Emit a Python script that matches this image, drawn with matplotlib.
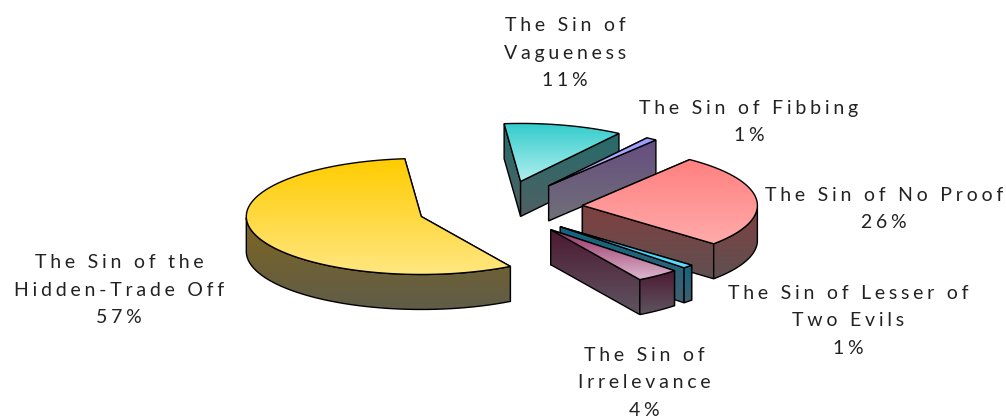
import numpy as np
import matplotlib
matplotlib.use('Agg')
import matplotlib.pyplot as plt
from matplotlib.colors import to_rgb
from matplotlib.patches import Polygon

plt.rcParams['font.family'] = ['Lato', 'DejaVu Sans']

# Data
names = ['The Sin of the\nHidden-Trade Off', 'The Sin of\nVagueness', 'The Sin of Fibbing',
         'The Sin of No Proof', 'The Sin of Lesser of\nTwo Evils', 'The Sin of\nIrrelevance']
shares = [57, 11, 1, 26, 1, 4]

# colours: top face start/end, side face start/end
top_a = ['#ffcc00', '#33cccc', '#9999ff', '#ff8080', '#00ccff', '#993366']
top_b = ['#ffe680', '#b0eeee', '#ccccff', '#ffaaaa', '#66ddff', '#dcb8cf']
side_a = ['#7f6620', '#266b6b', '#664d80', '#804040', '#0f6680', '#4d1a33']
side_b = ['#5f5c48', '#4f6064', '#707078', '#5f5050', '#405f70', '#5f5560']

# label centres, pixels
label_x = [119, 565, 749, 884, 848, 644]
label_y = [290, 53, 122, 209, 321, 383]

# pie geometry, pixels
cx, cy = 500, 208
rx, ry = 175, 58
depth = 35
explode = 0.473
start = 149.4


def spaced(s):
    return '\n'.join('\u2009\u200a'.join(line) for line in s.split('\n'))


def xy(t, x0, y0):
    t = np.radians(t)
    return x0 + rx * np.sin(t), y0 - ry * np.cos(t)


fig = plt.figure(figsize=(10.06, 4.18), dpi=100)
ax = fig.add_axes([0, 0, 1, 1])
z = [1]


def face(px, py, c1, c2):
    pts = np.column_stack([px, py])
    col1, col2 = np.array(to_rgb(c1)), np.array(to_rgb(c2))
    f = np.linspace(0, 1, 64)[:, None, None]
    grad = col1[None, None, :] * (1 - f) + col2[None, None, :] * f
    im = ax.imshow(grad, extent=[min(px), max(px), max(py), min(py)], aspect='auto', zorder=z[0])
    im.set_clip_path(Polygon(pts, closed=True, transform=ax.transData))
    ax.add_patch(Polygon(pts, closed=True, fill=False, ec='black', lw=1.0, zorder=z[0] + 0.5))
    z[0] += 1


angle = start
for i, share in enumerate(shares):
    t0, t1 = angle, angle + share * 3.6
    angle = t1
    mid = np.radians((t0 + t1) / 2)
    x0 = cx + explode * rx * np.sin(mid)
    y0 = cy - explode * ry * np.cos(mid)
    ts = np.linspace(t0, t1, 80)
    ax_, ay_ = xy(ts, x0, y0)

    # radial faces, the one further back first
    ends = sorted([t0, t1], key=lambda t: xy(t, x0, y0)[1])
    for t in ends:
        ex, ey = xy(t, x0, y0)
        face([x0, ex, ex, x0], [y0, ey, ey + depth, y0 + depth], side_a[i], side_b[i])
    # outer rim, only the part turned towards the viewer
    ang = (ts + 360) % 360
    front = (ang >= 90) & (ang <= 270)
    if front.any():
        rx_, ry_ = ax_[front], ay_[front]
        face(np.r_[rx_, rx_[::-1]], np.r_[ry_, ry_[::-1] + depth], side_a[i], side_b[i])
    # top
    face(np.r_[x0, ax_], np.r_[y0, ay_], top_a[i], top_b[i])

    ax.text(label_x[i], label_y[i], spaced(f'{names[i]}\n{share}%'), ha='center', va='center',
            fontsize=14, color='#222222', linespacing=1.78, zorder=100)

ax.set_xlim(0, 1006)
ax.set_ylim(418, 0)
ax.axis('off')
fig.savefig('out.png', dpi=100)
